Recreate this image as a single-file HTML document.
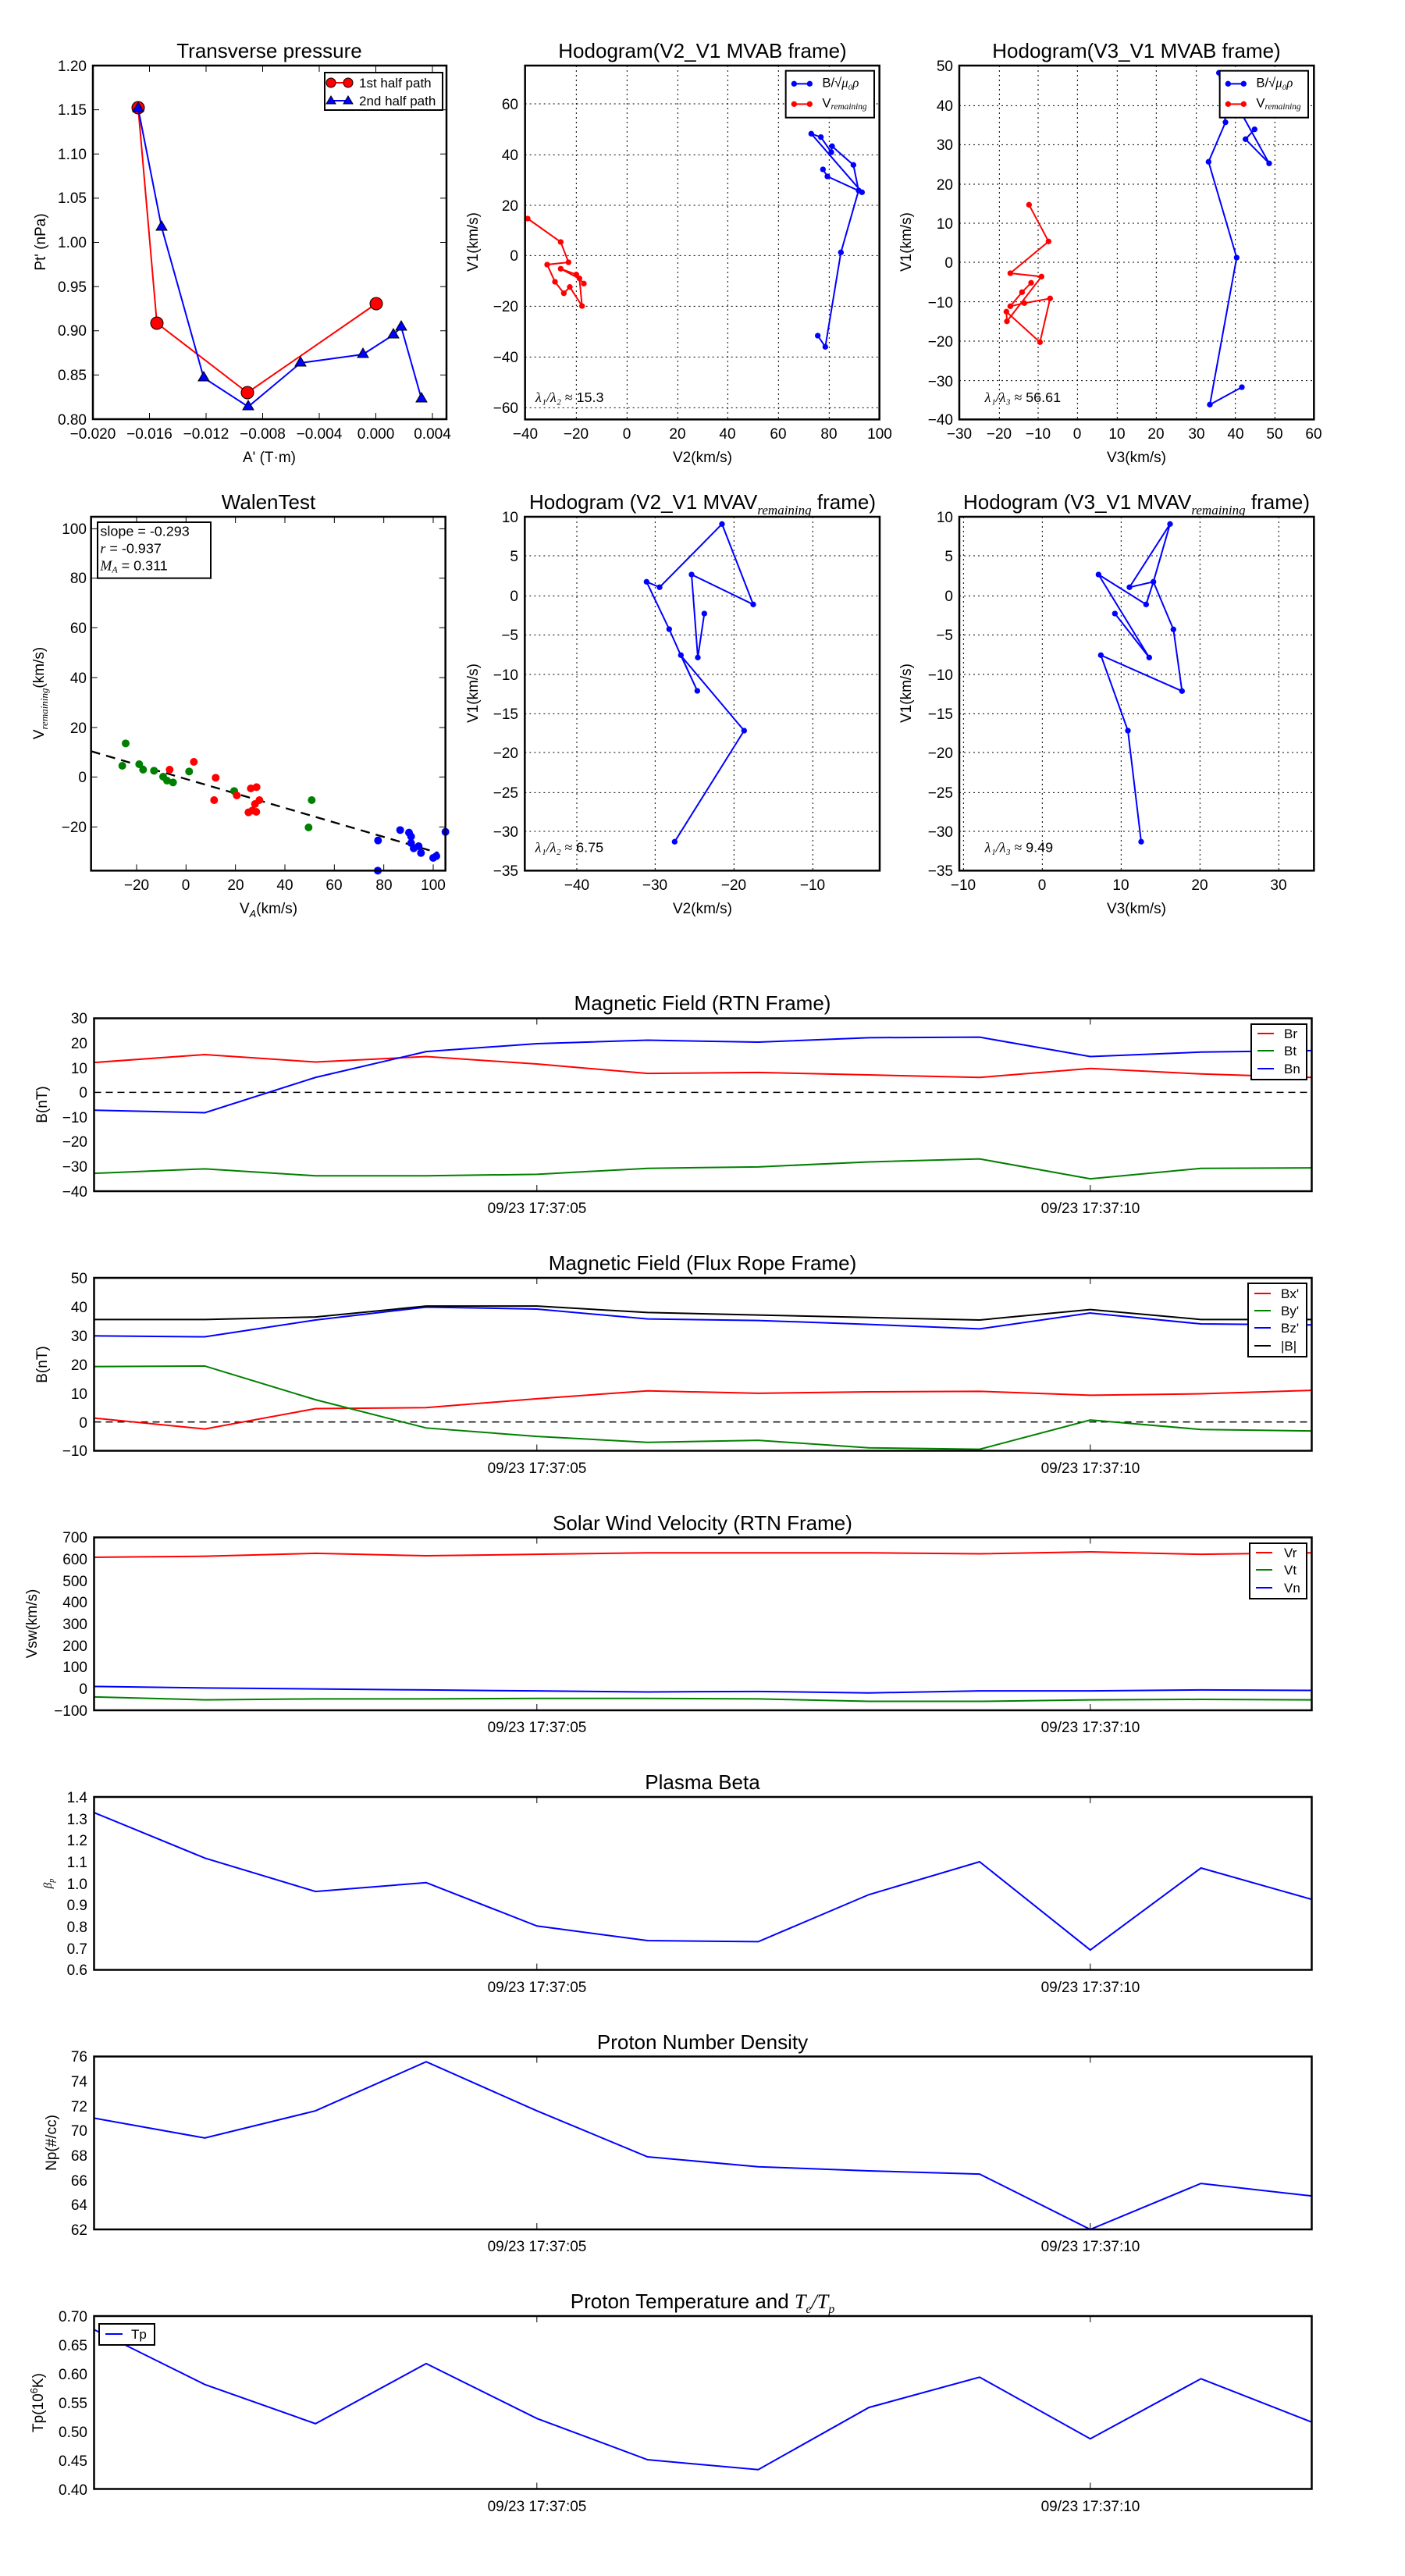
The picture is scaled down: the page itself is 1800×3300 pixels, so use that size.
<!DOCTYPE html>
<html><head><meta charset="utf-8"><style>
html,body{margin:0;padding:0;background:#fff}
svg{display:block}
text{font-family:"Liberation Sans","DejaVu Sans",sans-serif;fill:#000}
.t{font-size:26px;text-anchor:middle}
.tk{font-size:19px}
.r{text-anchor:end}
.m{text-anchor:middle}
.ax{fill:none;stroke:#000;stroke-width:2.5}
.ns{vector-effect:non-scaling-stroke;fill:none;stroke-width:2}
</style></head><body>
<svg width="1800" height="3300" viewBox="0 0 1800 3300" xmlns="http://www.w3.org/2000/svg">
<rect width="1800" height="3300" fill="#fff"/>

<!-- ===== Plot 1: Transverse pressure ===== -->
<text class="t" x="345" y="74">Transverse pressure</text>
<g stroke="#000" stroke-width="1">
<path d="M191.5,537v-8M264,537v-8M336.5,537v-8M409,537v-8M481.5,537v-8M554,537v-8M191.5,84v8M264,84v8M336.5,84v8M409,84v8M481.5,84v8M554,84v8"/>
<path d="M119,140.6h8M119,197.3h8M119,253.9h8M119,310.5h8M119,367.1h8M119,423.8h8M119,480.4h8M572,140.6h-8M572,197.3h-8M572,253.9h-8M572,310.5h-8M572,367.1h-8M572,423.8h-8M572,480.4h-8"/>
</g>
<polyline fill="none" stroke="#f00" stroke-width="2" points="177,138 201,414 317,503 482,389"/>
<g fill="#f00" stroke="#000" stroke-width="1"><circle cx="177" cy="138" r="8"/><circle cx="201" cy="414" r="8"/><circle cx="317" cy="503" r="8"/><circle cx="482" cy="389" r="8"/></g>
<polyline fill="none" stroke="#00f" stroke-width="2" points="177,139 207,291 261,484 318,521 385,465 465,454 504,429 514,419 540,511"/>
<g fill="#00f" stroke="#000" stroke-width="1">
<path d="M177,131l7,12h-14z"/><path d="M207,283l7,12h-14z"/><path d="M261,476l7,12h-14z"/><path d="M318,513l7,12h-14z"/><path d="M385,457l7,12h-14z"/><path d="M465,446l7,12h-14z"/><path d="M504,421l7,12h-14z"/><path d="M514,411l7,12h-14z"/><path d="M540,503l7,12h-14z"/>
</g>
<rect x="416" y="93" width="151" height="48" fill="#fff" stroke="#000" stroke-width="2"/>
<line x1="424" y1="106" x2="446" y2="106" stroke="#f00" stroke-width="2"/><circle cx="424" cy="106" r="6" fill="#f00" stroke="#000"/><circle cx="446" cy="106" r="6" fill="#f00" stroke="#000"/>
<text x="460" y="112" style="font-size:17px">1st half path</text>
<line x1="424" y1="129" x2="446" y2="129" stroke="#00f" stroke-width="2"/><path d="M424,123l6,10h-12zM446,123l6,10h-12z" fill="#00f" stroke="#000"/>
<text x="460" y="135" style="font-size:17px">2nd half path</text>
<rect class="ax" x="119" y="84" width="453" height="453"/>
<g class="tk r">
<text x="111" y="91">1.20</text><text x="111" y="147">1.15</text><text x="111" y="204">1.10</text><text x="111" y="260">1.05</text><text x="111" y="317">1.00</text><text x="111" y="374">0.95</text><text x="111" y="430">0.90</text><text x="111" y="487">0.85</text><text x="111" y="544">0.80</text>
</g>
<g class="tk m">
<text x="119" y="562">−0.020</text><text x="191.5" y="562">−0.016</text><text x="264" y="562">−0.012</text><text x="336.5" y="562">−0.008</text><text x="409" y="562">−0.004</text><text x="481.5" y="562">0.000</text><text x="554" y="562">0.004</text>
</g>
<text class="tk m" x="345" y="592">A' (T·m)</text>
<text class="tk m" transform="translate(58,310) rotate(-90)">Pt' (nPa)</text>

<!-- ===== Plot 2: Hodogram V2_V1 MVAB ===== -->
<text class="t" x="900" y="74">Hodogram(V2_V1 MVAB frame)</text>
<g transform="translate(670,80) scale(0.3333333)">
<g stroke="#000" stroke-width="3" stroke-dasharray="6,12" fill="none">
<path d="M205,12V1372M400,12V1372M595,12V1372M787,12V1372M982,12V1372M1177,12V1372"/>
<path d="M8,159H1370M8,355H1370M8,549H1370M8,742H1370M8,937H1370M8,1132H1370M8,1327H1370"/>
</g>
<polyline fill="none" stroke="#00f" stroke-width="6" points="1153,411 1170,438 1303,499 1108,274 1145,287 1185,345 1188,322 1270,394 1290,492 1222,730 1162,1093 1133,1050"/>
<g fill="#00f"><circle cx="1153" cy="411" r="11"/><circle cx="1170" cy="438" r="11"/><circle cx="1303" cy="499" r="11"/><circle cx="1108" cy="274" r="11"/><circle cx="1145" cy="287" r="11"/><circle cx="1185" cy="345" r="11"/><circle cx="1188" cy="322" r="11"/><circle cx="1270" cy="394" r="11"/><circle cx="1290" cy="492" r="11"/><circle cx="1222" cy="730" r="11"/><circle cx="1162" cy="1093" r="11"/><circle cx="1133" cy="1050" r="11"/></g>
<polyline fill="none" stroke="#f00" stroke-width="6" points="18,600 145,690 175,768 93,777 123,843 157,887 180,863 227,936 217,830 205,815 145,793 215,830 234,850"/>
<g fill="#f00"><circle cx="18" cy="600" r="11"/><circle cx="145" cy="690" r="11"/><circle cx="175" cy="768" r="11"/><circle cx="93" cy="777" r="11"/><circle cx="123" cy="843" r="11"/><circle cx="157" cy="887" r="11"/><circle cx="180" cy="863" r="11"/><circle cx="227" cy="936" r="11"/><circle cx="217" cy="830" r="11"/><circle cx="205" cy="815" r="11"/><circle cx="145" cy="793" r="11"/><circle cx="234" cy="850" r="11"/></g>
<rect x="1010" y="32" width="340" height="180" fill="#fff" stroke="#000" stroke-width="6"/>
<line x1="1042" y1="82" x2="1102" y2="82" stroke="#00f" stroke-width="6"/><circle cx="1042" cy="82" r="11" fill="#00f"/><circle cx="1102" cy="82" r="11" fill="#00f"/>
<text x="1150" y="95" style="font-size:50px">B/√<tspan font-style="italic" font-family="Liberation Serif">μ₀ρ</tspan></text>
<line x1="1042" y1="160" x2="1102" y2="160" stroke="#f00" stroke-width="6"/><circle cx="1042" cy="160" r="11" fill="#f00"/><circle cx="1102" cy="160" r="11" fill="#f00"/>
<text x="1150" y="172" style="font-size:50px">V<tspan font-style="italic" font-family="Liberation Serif" style="font-size:34px" dy="8">remaining</tspan></text>
<text x="48" y="1305" style="font-size:54px"><tspan font-style="italic" font-family="Liberation Serif">λ₁/λ₂ ≈</tspan> 15.3</text>
<rect x="8" y="12" width="1362" height="1360" fill="none" stroke="#000" stroke-width="7.5"/>
</g>
<g class="tk r">
<text x="664" y="140">60</text><text x="664" y="205">40</text><text x="664" y="270">20</text><text x="664" y="334">0</text><text x="664" y="399">−20</text><text x="664" y="464">−40</text><text x="664" y="529">−60</text>
</g>
<g class="tk m">
<text x="673" y="562">−40</text><text x="738" y="562">−20</text><text x="803" y="562">0</text><text x="868" y="562">20</text><text x="932" y="562">40</text><text x="997" y="562">60</text><text x="1062" y="562">80</text><text x="1127" y="562">100</text>
</g>
<text class="tk m" x="900" y="592">V2(km/s)</text>
<text class="tk m" transform="translate(612,310) rotate(-90)">V1(km/s)</text>

<!-- ===== Plot 3: Hodogram V3_V1 MVAB ===== -->
<text class="t" x="1456" y="74">Hodogram(V3_V1 MVAB frame)</text>
<g transform="translate(1240,80) scale(0.3333333)">
<g stroke="#000" stroke-width="3" stroke-dasharray="6,12" fill="none">
<path d="M121,12V1372M270,12V1372M421,12V1372M574,12V1372M724,12V1372M878,12V1372M1028,12V1372M1180,12V1372"/>
<path d="M-33,166H1330M-33,316H1330M-33,468H1330M-33,618H1330M-33,768H1330M-33,920H1330M-33,1071H1330M-33,1223H1330"/>
</g>
<polyline fill="none" stroke="#00f" stroke-width="6" points="1102,257 1067,295 1158,388 965,40 990,230 925,382 1033,750 930,1315 1053,1248"/>
<g fill="#00f"><circle cx="1102" cy="257" r="11"/><circle cx="1067" cy="295" r="11"/><circle cx="1158" cy="388" r="11"/><circle cx="965" cy="40" r="11"/><circle cx="990" cy="230" r="11"/><circle cx="925" cy="382" r="11"/><circle cx="1033" cy="750" r="11"/><circle cx="930" cy="1315" r="11"/><circle cx="1053" cy="1248" r="11"/></g>
<polyline fill="none" stroke="#f00" stroke-width="6" points="235,547 310,688 163,810 283,823 150,995 148,958 277,1075 316,907 217,925 163,937 208,883 243,847"/>
<g fill="#f00"><circle cx="235" cy="547" r="11"/><circle cx="310" cy="688" r="11"/><circle cx="163" cy="810" r="11"/><circle cx="283" cy="823" r="11"/><circle cx="150" cy="995" r="11"/><circle cx="148" cy="958" r="11"/><circle cx="277" cy="1075" r="11"/><circle cx="316" cy="907" r="11"/><circle cx="217" cy="925" r="11"/><circle cx="163" cy="937" r="11"/><circle cx="208" cy="883" r="11"/><circle cx="243" cy="847" r="11"/></g>
<rect x="968" y="32" width="340" height="180" fill="#fff" stroke="#000" stroke-width="6"/>
<line x1="1000" y1="82" x2="1060" y2="82" stroke="#00f" stroke-width="6"/><circle cx="1000" cy="82" r="11" fill="#00f"/><circle cx="1060" cy="82" r="11" fill="#00f"/>
<text x="1108" y="95" style="font-size:50px">B/√<tspan font-style="italic" font-family="Liberation Serif">μ₀ρ</tspan></text>
<line x1="1000" y1="160" x2="1060" y2="160" stroke="#f00" stroke-width="6"/><circle cx="1000" cy="160" r="11" fill="#f00"/><circle cx="1060" cy="160" r="11" fill="#f00"/>
<text x="1108" y="172" style="font-size:50px">V<tspan font-style="italic" font-family="Liberation Serif" style="font-size:34px" dy="8">remaining</tspan></text>
<text x="65" y="1305" style="font-size:54px"><tspan font-style="italic" font-family="Liberation Serif">λ₁/λ₃ ≈</tspan> 56.61</text>
<rect x="-33" y="12" width="1363" height="1360" fill="none" stroke="#000" stroke-width="7.5"/>
</g>
<g class="tk r">
<text x="1221" y="91">50</text><text x="1221" y="142">40</text><text x="1221" y="192">30</text><text x="1221" y="243">20</text><text x="1221" y="293">10</text><text x="1221" y="343">0</text><text x="1221" y="394">−10</text><text x="1221" y="444">−20</text><text x="1221" y="495">−30</text><text x="1221" y="544">−40</text>
</g>
<g class="tk m">
<text x="1229" y="562">−30</text><text x="1280" y="562">−20</text><text x="1330" y="562">−10</text><text x="1380" y="562">0</text><text x="1431" y="562">10</text><text x="1481" y="562">20</text><text x="1533" y="562">30</text><text x="1583" y="562">40</text><text x="1633" y="562">50</text><text x="1683" y="562">60</text>
</g>
<text class="tk m" x="1456" y="592">V3(km/s)</text>
<text class="tk m" transform="translate(1167,310) rotate(-90)">V1(km/s)</text>

<!-- ===== Plot 4: WalenTest ===== -->
<text class="t" x="344" y="652">WalenTest</text>
<g transform="translate(100,650) scale(0.3333333)">
<g stroke="#000" stroke-width="3">
<path d="M225,36v24M415,36v24M605,36v24M795,36v24M985,36v24M1175,36v24M1365,36v24M225,1396v-24M415,1396v-24M605,1396v-24M795,1396v-24M985,1396v-24M1175,1396v-24M1365,1396v-24"/>
<path d="M50,82h24M50,272h24M50,462h24M50,654h24M50,846h24M50,1036h24M50,1228h24M1412,82h-24M1412,272h-24M1412,462h-24M1412,654h-24M1412,846h-24M1412,1036h-24M1412,1228h-24"/>
</g>
<line x1="50" y1="937" x2="1385" y2="1328" stroke="#000" stroke-width="7" stroke-dasharray="36,24"/>
<g fill="#008000"><circle cx="183" cy="907" r="15"/><circle cx="170" cy="993" r="15"/><circle cx="235" cy="987" r="15"/><circle cx="250" cy="1008" r="15"/><circle cx="292" cy="1012" r="15"/><circle cx="327" cy="1035" r="15"/><circle cx="342" cy="1050" r="15"/><circle cx="365" cy="1057" r="15"/><circle cx="427" cy="1015" r="15"/><circle cx="600" cy="1090" r="15"/><circle cx="898" cy="1125" r="15"/><circle cx="886" cy="1230" r="15"/></g>
<g fill="#f00"><circle cx="352" cy="1008" r="15"/><circle cx="445" cy="978" r="15"/><circle cx="529" cy="1039" r="15"/><circle cx="523" cy="1125" r="15"/><circle cx="610" cy="1107" r="15"/><circle cx="664" cy="1080" r="15"/><circle cx="686" cy="1075" r="15"/><circle cx="697" cy="1125" r="15"/><circle cx="680" cy="1140" r="15"/><circle cx="655" cy="1172" r="15"/><circle cx="685" cy="1170" r="15"/><circle cx="670" cy="1165" r="15"/></g>
<g fill="#00f"><circle cx="1153" cy="1280" r="15"/><circle cx="1238" cy="1240" r="15"/><circle cx="1272" cy="1250" r="15"/><circle cx="1280" cy="1265" r="15"/><circle cx="1280" cy="1290" r="15"/><circle cx="1309" cy="1302" r="15"/><circle cx="1290" cy="1310" r="15"/><circle cx="1318" cy="1328" r="15"/><circle cx="1365" cy="1347" r="15"/><circle cx="1377" cy="1340" r="15"/><circle cx="1412" cy="1247" r="15"/><circle cx="1152" cy="1396" r="15"/></g>
<rect x="75" y="57" width="435" height="215" fill="#fff" stroke="#000" stroke-width="6"/>
<text x="85" y="110" style="font-size:54px">slope = -0.293</text>
<text x="85" y="175" style="font-size:54px"><tspan font-style="italic" font-family="Liberation Serif">r</tspan> = -0.937</text>
<text x="85" y="242" style="font-size:54px"><tspan font-style="italic" font-family="Liberation Serif">M<tspan style="font-size:36px" dy="8">A</tspan></tspan><tspan dy="-8"> = 0.311</tspan></text>
<rect x="50" y="36" width="1362" height="1360" fill="none" stroke="#000" stroke-width="7.5"/>
</g>
<g class="tk r">
<text x="111" y="684">100</text><text x="111" y="747">80</text><text x="111" y="811">60</text><text x="111" y="875">40</text><text x="111" y="939">20</text><text x="111" y="1002">0</text><text x="111" y="1066">−20</text>
</g>
<g class="tk m">
<text x="175" y="1140">−20</text><text x="238" y="1140">0</text><text x="302" y="1140">20</text><text x="365" y="1140">40</text><text x="428" y="1140">60</text><text x="492" y="1140">80</text><text x="555" y="1140">100</text>
</g>
<text class="tk m" x="344" y="1170">V<tspan style="font-size:13px" dy="5" font-style="italic">A</tspan><tspan dy="-5">(km/s)</tspan></text>
<text class="tk m" transform="translate(56,888) rotate(-90)">V<tspan style="font-size:13px" dy="5" font-style="italic" font-family="Liberation Serif">remaining</tspan><tspan dy="-5">(km/s)</tspan></text>

<!-- ===== Plot 5: Hodogram V2_V1 MVAV ===== -->
<text class="t" x="900" y="652">Hodogram (V2_V1 MVAV<tspan style="font-size:17px" dy="7" font-style="italic" font-family="Liberation Serif">remaining</tspan><tspan dy="-7"> frame)</tspan></text>
<g transform="translate(665,650) scale(0.3333333)">
<g stroke="#000" stroke-width="3" stroke-dasharray="6,12" fill="none">
<path d="M222,36V1396M523,36V1396M826,36V1396M1129,36V1396"/>
<path d="M22,186H1386M22,340H1386M22,490H1386M22,642H1386M22,793H1386M22,942H1386M22,1096H1386M22,1245H1386"/>
</g>
<polyline fill="none" stroke="#00f" stroke-width="6" points="598,1285 865,858 624,572 685,705 620,565 577,468 490,286 540,307 780,64 900,373 663,258 687,577 712,408"/>
<g fill="#00f"><circle cx="598" cy="1285" r="11"/><circle cx="865" cy="858" r="11"/><circle cx="622" cy="568" r="11"/><circle cx="685" cy="705" r="11"/><circle cx="577" cy="468" r="11"/><circle cx="490" cy="286" r="11"/><circle cx="540" cy="307" r="11"/><circle cx="780" cy="64" r="11"/><circle cx="900" cy="373" r="11"/><circle cx="663" cy="258" r="11"/><circle cx="687" cy="577" r="11"/><circle cx="712" cy="408" r="11"/></g>
<text x="62" y="1325" style="font-size:54px"><tspan font-style="italic" font-family="Liberation Serif">λ₁/λ₂ ≈</tspan> 6.75</text>
<rect x="22" y="36" width="1364" height="1360" fill="none" stroke="#000" stroke-width="7.5"/>
</g>
<g class="tk r">
<text x="664" y="669">10</text><text x="664" y="719">5</text><text x="664" y="770">0</text><text x="664" y="820">−5</text><text x="664" y="871">−10</text><text x="664" y="921">−15</text><text x="664" y="971">−20</text><text x="664" y="1022">−25</text><text x="664" y="1072">−30</text><text x="664" y="1122">−35</text>
</g>
<g class="tk m">
<text x="739" y="1140">−40</text><text x="839" y="1140">−30</text><text x="940" y="1140">−20</text><text x="1041" y="1140">−10</text>
</g>
<text class="tk m" x="900" y="1170">V2(km/s)</text>
<text class="tk m" transform="translate(612,888) rotate(-90)">V1(km/s)</text>

<!-- ===== Plot 6: Hodogram V3_V1 MVAV ===== -->
<text class="t" x="1456" y="652">Hodogram (V3_V1 MVAV<tspan style="font-size:17px" dy="7" font-style="italic" font-family="Liberation Serif">remaining</tspan><tspan dy="-7"> frame)</tspan></text>
<g transform="translate(1215,650) scale(0.3333333)">
<g stroke="#000" stroke-width="3" stroke-dasharray="6,12" fill="none">
<path d="M58,36V1396M361,36V1396M664,36V1396M967,36V1396M1270,36V1396"/>
<path d="M42,186H1405M42,340H1405M42,490H1405M42,642H1405M42,793H1405M42,942H1405M42,1096H1405M42,1245H1405"/>
</g>
<polyline fill="none" stroke="#00f" stroke-width="6" points="741,1285 690,858 586,568 898,706 865,469 788,286 696,307 852,64 788,286 760,373 577,258 772,577 640,408"/>
<g fill="#00f"><circle cx="741" cy="1285" r="11"/><circle cx="690" cy="858" r="11"/><circle cx="586" cy="568" r="11"/><circle cx="898" cy="706" r="11"/><circle cx="865" cy="469" r="11"/><circle cx="788" cy="286" r="11"/><circle cx="696" cy="307" r="11"/><circle cx="852" cy="64" r="11"/><circle cx="760" cy="373" r="11"/><circle cx="577" cy="258" r="11"/><circle cx="772" cy="577" r="11"/><circle cx="640" cy="408" r="11"/></g>
<text x="140" y="1325" style="font-size:54px"><tspan font-style="italic" font-family="Liberation Serif">λ₁/λ₃ ≈</tspan> 9.49</text>
<rect x="42" y="36" width="1363" height="1360" fill="none" stroke="#000" stroke-width="7.5"/>
</g>
<g class="tk r">
<text x="1221" y="669">10</text><text x="1221" y="719">5</text><text x="1221" y="770">0</text><text x="1221" y="820">−5</text><text x="1221" y="871">−10</text><text x="1221" y="921">−15</text><text x="1221" y="971">−20</text><text x="1221" y="1022">−25</text><text x="1221" y="1072">−30</text><text x="1221" y="1122">−35</text>
</g>
<g class="tk m">
<text x="1234" y="1140">−10</text><text x="1335" y="1140">0</text><text x="1436" y="1140">10</text><text x="1537" y="1140">20</text><text x="1638" y="1140">30</text>
</g>
<text class="tk m" x="1456" y="1170">V3(km/s)</text>
<text class="tk m" transform="translate(1167,888) rotate(-90)">V1(km/s)</text>

<!-- ===== Time series ===== -->
<!-- Magnetic Field RTN -->
<text class="t" x="900" y="1294">Magnetic Field (RTN Frame)</text>
<line x1="120.5" y1="1399.4" x2="1680.5" y2="1399.4" stroke="#000" stroke-width="1.5" stroke-dasharray="9,6"/>
<g transform="translate(0,1304.5) scale(1,0.6365) translate(0,-86)">
<polyline class="ns" stroke="#f00" points="120.6,175 262.4,159 404.2,174 546,163 687.8,178 829.6,197 971.4,195 1113.2,200 1255,205 1396.8,187 1538.6,198 1680.4,205"/>
<polyline class="ns" stroke="#008000" points="120.6,398 262.4,389 404.2,403 546,403 687.8,400 829.6,388 971.4,385 1113.2,375 1255,369 1396.8,409 1538.6,388 1680.4,387"/>
<polyline class="ns" stroke="#00f" points="120.6,271 262.4,276 404.2,205 546,153 687.8,137 829.6,130 971.4,134 1113.2,125 1255,124 1396.8,163 1538.6,154 1680.4,151"/>
</g>
<rect x="1603" y="1312" width="71" height="71" fill="#fff" stroke="#000" stroke-width="2"/>
<line x1="1611" y1="1324" x2="1632" y2="1324" stroke="#f00" stroke-width="2"/><text x="1645" y="1330" style="font-size:17px">Br</text>
<line x1="1611" y1="1346" x2="1632" y2="1346" stroke="#008000" stroke-width="2"/><text x="1645" y="1352" style="font-size:17px">Bt</text>
<line x1="1611" y1="1369" x2="1632" y2="1369" stroke="#00f" stroke-width="2"/><text x="1645" y="1375" style="font-size:17px">Bn</text>
<rect class="ax" x="120.5" y="1304.5" width="1560" height="221.5"/>
<g class="tk r"><text x="112" y="1311">30</text><text x="112" y="1343">20</text><text x="112" y="1375">10</text><text x="112" y="1406">0</text><text x="112" y="1438">−10</text><text x="112" y="1469">−20</text><text x="112" y="1501">−30</text><text x="112" y="1533">−40</text></g>
<text class="tk m" x="688" y="1554">09/23 17:37:05</text><text class="tk m" x="1397" y="1554">09/23 17:37:10</text>
<text class="tk m" transform="translate(60,1415) rotate(-90)">B(nT)</text>

<!-- Flux rope -->
<text class="t" x="900" y="1627">Magnetic Field (Flux Rope Frame)</text>
<line x1="120.5" y1="1821.6" x2="1680.5" y2="1821.6" stroke="#000" stroke-width="1.5" stroke-dasharray="9,6"/>
<g transform="translate(0,1637) scale(1,0.6347) translate(0,-609)">
<polyline class="ns" stroke="#f00" points="120.6,892 262.4,914 404.2,873 546,871 687.8,853 829.6,837 971.4,842 1113.2,839 1255,838 1396.8,846 1538.6,843 1680.4,836"/>
<polyline class="ns" stroke="#008000" points="120.6,788 262.4,787 404.2,855 546,912 687.8,929 829.6,941 971.4,937 1113.2,952 1255,955 1396.8,896 1538.6,915 1680.4,918"/>
<polyline class="ns" stroke="#00f" points="120.6,726 262.4,728 404.2,694 546,668 687.8,672 829.6,692 971.4,695 1113.2,703 1255,712 1396.8,680 1538.6,702 1680.4,704"/>
<polyline class="ns" stroke="#000" points="120.6,693 262.4,693 404.2,688 546,666 687.8,666 829.6,679 971.4,684 1113.2,689 1255,694 1396.8,673 1538.6,693 1680.4,693"/>
</g>
<rect x="1599" y="1644" width="75" height="94" fill="#fff" stroke="#000" stroke-width="2"/>
<line x1="1607" y1="1657" x2="1628" y2="1657" stroke="#f00" stroke-width="2"/><text x="1641" y="1663" style="font-size:17px">Bx'</text>
<line x1="1607" y1="1679" x2="1628" y2="1679" stroke="#008000" stroke-width="2"/><text x="1641" y="1685" style="font-size:17px">By'</text>
<line x1="1607" y1="1701" x2="1628" y2="1701" stroke="#00f" stroke-width="2"/><text x="1641" y="1707" style="font-size:17px">Bz'</text>
<line x1="1607" y1="1724" x2="1628" y2="1724" stroke="#000" stroke-width="2"/><text x="1641" y="1730" style="font-size:17px">|B|</text>
<rect class="ax" x="120.5" y="1637" width="1560" height="221.5"/>
<g class="tk r"><text x="112" y="1644">50</text><text x="112" y="1681">40</text><text x="112" y="1718">30</text><text x="112" y="1755">20</text><text x="112" y="1792">10</text><text x="112" y="1829">0</text><text x="112" y="1865">−10</text></g>
<text class="tk m" x="688" y="1887">09/23 17:37:05</text><text class="tk m" x="1397" y="1887">09/23 17:37:10</text>
<text class="tk m" transform="translate(60,1748) rotate(-90)">B(nT)</text>

<!-- Solar wind -->
<text class="t" x="900" y="1960">Solar Wind Velocity (RTN Frame)</text>
<g transform="translate(0,1969.5) scale(1,0.6365) translate(0,-1132)">
<polyline class="ns" stroke="#f00" points="120.6,1172 262.4,1170 404.2,1164 546,1169 687.8,1166 829.6,1163 971.4,1163 1113.2,1163 1255,1165 1396.8,1161 1538.6,1166 1680.4,1163"/>
<polyline class="ns" stroke="#008000" points="120.6,1453 262.4,1459 404.2,1457 546,1457 687.8,1456 829.6,1456 971.4,1457 1113.2,1462 1255,1462 1396.8,1459 1538.6,1458 1680.4,1459"/>
<polyline class="ns" stroke="#00f" points="120.6,1432 262.4,1435 404.2,1437 546,1439 687.8,1441 829.6,1443 971.4,1442 1113.2,1445 1255,1441 1396.8,1441 1538.6,1439 1680.4,1440"/>
</g>
<rect x="1601" y="1977" width="73" height="71" fill="#fff" stroke="#000" stroke-width="2"/>
<line x1="1609" y1="1989" x2="1630" y2="1989" stroke="#f00" stroke-width="2"/><text x="1645" y="1995" style="font-size:17px">Vr</text>
<line x1="1609" y1="2011" x2="1630" y2="2011" stroke="#008000" stroke-width="2"/><text x="1645" y="2017" style="font-size:17px">Vt</text>
<line x1="1609" y1="2034" x2="1630" y2="2034" stroke="#00f" stroke-width="2"/><text x="1645" y="2040" style="font-size:17px">Vn</text>
<rect class="ax" x="120.5" y="1969.5" width="1560" height="221.5"/>
<g class="tk r"><text x="112" y="1976">700</text><text x="112" y="2004">600</text><text x="112" y="2032">500</text><text x="112" y="2059">400</text><text x="112" y="2087">300</text><text x="112" y="2115">200</text><text x="112" y="2142">100</text><text x="112" y="2170">0</text><text x="112" y="2198">−100</text></g>
<text class="tk m" x="688" y="2219">09/23 17:37:05</text><text class="tk m" x="1397" y="2219">09/23 17:37:10</text>
<text class="tk m" transform="translate(47,2080) rotate(-90)">Vsw(km/s)</text>

<!-- Plasma beta -->
<text class="t" x="900" y="2292">Plasma Beta</text>
<g transform="translate(0,2302) scale(1,0.6692) translate(0,-83)">
<polyline class="ns" stroke="#00f" points="120.6,113 262.4,200 404.2,264 546,247 687.8,330 829.6,358 971.4,360 1113.2,270 1255,207 1396.8,376 1538.6,219 1680.4,279"/>
</g>
<rect class="ax" x="120.5" y="2302" width="1560" height="221.5"/>
<g class="tk r"><text x="112" y="2309">1.4</text><text x="112" y="2337">1.3</text><text x="112" y="2364">1.2</text><text x="112" y="2392">1.1</text><text x="112" y="2420">1.0</text><text x="112" y="2447">0.9</text><text x="112" y="2475">0.8</text><text x="112" y="2503">0.7</text><text x="112" y="2530">0.6</text></g>
<text class="tk m" x="688" y="2552">09/23 17:37:05</text><text class="tk m" x="1397" y="2552">09/23 17:37:10</text>
<text class="m" transform="translate(66,2413) rotate(-90)" style="font-size:15px;font-style:italic;font-family:'Liberation Serif'">β<tspan style="font-size:10px" dy="3">p</tspan></text>

<!-- Proton density -->
<text class="t" x="900" y="2625">Proton Number Density</text>
<g transform="translate(0,2634.5) scale(1,0.6692) translate(0,-580)">
<polyline class="ns" stroke="#00f" points="120.6,698 262.4,736 404.2,684 546,590 687.8,684 829.6,772 971.4,791 1113.2,799 1255,805 1396.8,911 1538.6,823 1680.4,847"/>
</g>
<rect class="ax" x="120.5" y="2634.5" width="1560" height="221.5"/>
<g class="tk r"><text x="112" y="2641">76</text><text x="112" y="2673">74</text><text x="112" y="2705">72</text><text x="112" y="2736">70</text><text x="112" y="2768">68</text><text x="112" y="2800">66</text><text x="112" y="2831">64</text><text x="112" y="2863">62</text></g>
<text class="tk m" x="688" y="2884">09/23 17:37:05</text><text class="tk m" x="1397" y="2884">09/23 17:37:10</text>
<text class="tk m" transform="translate(72,2745) rotate(-90)">Np(#/cc)</text>

<!-- Proton temperature -->
<text class="t" x="900" y="2957">Proton Temperature and <tspan font-style="italic" font-family="Liberation Serif">T<tspan style="font-size:16px" dy="6">e</tspan><tspan dy="-6">/T</tspan><tspan style="font-size:16px" dy="6">p</tspan></tspan></text>
<g transform="translate(0,2967) scale(1,0.6692) translate(0,-1079)">
<polyline class="ns" stroke="#00f" points="120.6,1105 262.4,1210 404.2,1285 546,1170 687.8,1275 829.6,1354 971.4,1373 1113.2,1254 1255,1196 1396.8,1314 1538.6,1199 1680.4,1282"/>
</g>
<rect x="127" y="2977" width="71" height="27" fill="#fff" stroke="#000" stroke-width="2"/>
<line x1="135" y1="2990" x2="157" y2="2990" stroke="#00f" stroke-width="2"/><text x="168" y="2996" style="font-size:17px">Tp</text>
<rect class="ax" x="120.5" y="2967" width="1560" height="221.5"/>
<g class="tk r"><text x="112" y="2974">0.70</text><text x="112" y="3011">0.65</text><text x="112" y="3048">0.60</text><text x="112" y="3085">0.55</text><text x="112" y="3122">0.50</text><text x="112" y="3159">0.45</text><text x="112" y="3196">0.40</text></g>
<text class="tk m" x="688" y="3217">09/23 17:37:05</text><text class="tk m" x="1397" y="3217">09/23 17:37:10</text>
<text class="tk m" transform="translate(55,3078) rotate(-90)">Tp(10<tspan style="font-size:13px" dy="-7">6</tspan><tspan dy="7">K)</tspan></text>

<!-- time-series x ticks -->
<g stroke="#000" stroke-width="1">
<path d="M687.8,1526v-8M1396.8,1526v-8M687.8,1304.5v8M1396.8,1304.5v8"/>
<path d="M687.8,1858.5v-8M1396.8,1858.5v-8M687.8,1637v8M1396.8,1637v8"/>
<path d="M687.8,2191v-8M1396.8,2191v-8M687.8,1969.5v8M1396.8,1969.5v8"/>
<path d="M687.8,2523.5v-8M1396.8,2523.5v-8M687.8,2302v8M1396.8,2302v8"/>
<path d="M687.8,2856v-8M1396.8,2856v-8M687.8,2634.5v8M1396.8,2634.5v8"/>
<path d="M687.8,3188.5v-8M1396.8,3188.5v-8M687.8,2967v8M1396.8,2967v8"/>
</g>
</svg>
</body></html>
